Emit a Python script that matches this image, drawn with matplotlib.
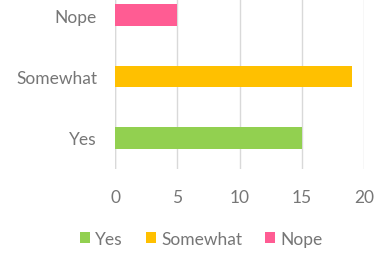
import matplotlib.pyplot as plt
from matplotlib.patches import Patch

categories = ['Yes', 'Somewhat', 'Nope']
counts = [15, 19, 5]
colors = ['#92D050', '#FFC000', '#FF5C93']
xticks = [0, 5, 10, 15, 20]

plt.rcParams['font.family'] = ['Lato', 'DejaVu Sans']
text_gray = '#767676'

fig = plt.figure(figsize=(3.76, 2.55), dpi=100)
ax = fig.add_axes([0.306, 0.335, 0.662, 0.722])

ax.barh(range(len(categories)), counts, height=0.35, color=colors, zorder=3)
ax.set_xlim(0, 20)
ax.set_ylim(-0.5, 2.5)
ax.set_xticks(xticks)
ax.set_yticks(range(len(categories)))
ax.set_yticklabels(categories)

ax.grid(axis='x', color='#D9D9D9', linewidth=1, zorder=0)
for s in ax.spines.values():
    s.set_visible(False)
ax.axvline(0, color='#D9D9D9', linewidth=1, zorder=1)
ax.tick_params(axis='both', length=0, colors=text_gray, labelsize=12.5)
ax.tick_params(axis='x', pad=15)
ax.tick_params(axis='y', pad=13)

handles = [Patch(facecolor=c, edgecolor='none', label=l) for c, l in zip(colors, categories)]
fig.legend(handles=handles, loc='center', bbox_to_anchor=(0.535, 0.06), ncol=3,
           frameon=False, fontsize=12.5, labelcolor=text_gray,
           handlelength=0.6, handleheight=0.6, handletextpad=0.3, columnspacing=1.3)

fig.savefig('out.png', dpi=100)
